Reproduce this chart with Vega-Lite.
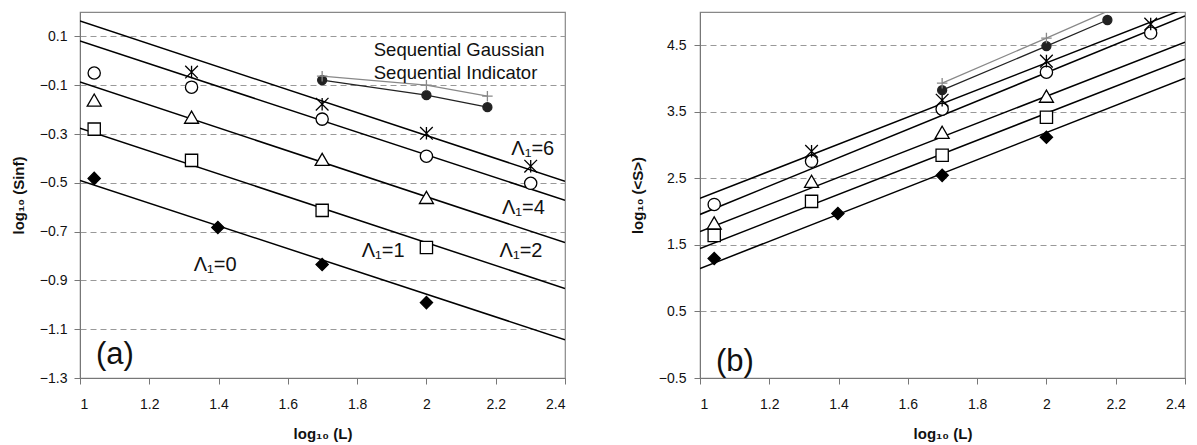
{
  "$schema": "https://vega.github.io/schema/vega-lite/v6.json",
  "padding": {"left": 10, "top": 11, "right": 2, "bottom": 0},
  "background": "white",
  "spacing": 135,
  "bounds": "flush",
  "config": {
    "view": {"stroke": "#888", "strokeWidth": 1.2},
    "axis": {
      "labelFont": "Liberation Sans", "labelFontSize": 14, "labelColor": "#111",
      "titleFont": "Liberation Sans", "titleFontSize": 15, "titleFontWeight": "bold", "titleColor": "#111",
      "domainColor": "#777", "tickColor": "#777", "tickSize": 6, "gridColor": "#999", "gridDash": [6, 4], "gridWidth": 1
    },
    "text": {"font": "Liberation Sans", "color": "#111"}
  },
  "datasets": {
    "fitA": [
      {"s": "L6", "x": 1, "y": 0.163}, {"s": "L6", "x": 2.4, "y": -0.494},
      {"s": "L4", "x": 1, "y": 0.081}, {"s": "L4", "x": 2.4, "y": -0.572},
      {"s": "L2", "x": 1, "y": -0.087}, {"s": "L2", "x": 2.4, "y": -0.745},
      {"s": "L1", "x": 1, "y": -0.276}, {"s": "L1", "x": 2.4, "y": -0.933},
      {"s": "L0", "x": 1, "y": -0.49}, {"s": "L0", "x": 2.4, "y": -1.143}
    ],
    "fitB": [
      {"s": "L6", "x": 1, "y": 2.199}, {"s": "L6", "x": 2.4, "y": 5.05},
      {"s": "L4", "x": 1, "y": 1.958}, {"s": "L4", "x": 2.4, "y": 4.94},
      {"s": "L2", "x": 1, "y": 1.702}, {"s": "L2", "x": 2.4, "y": 4.548},
      {"s": "L1", "x": 1, "y": 1.446}, {"s": "L1", "x": 2.4, "y": 4.292},
      {"s": "L0", "x": 1, "y": 1.145}, {"s": "L0", "x": 2.4, "y": 4.006}
    ],
    "ptsA": [
      {"s": "L0", "x": 1.041, "y": -0.482}, {"s": "L0", "x": 1.398, "y": -0.683}, {"s": "L0", "x": 1.699, "y": -0.835}, {"s": "L0", "x": 2.0, "y": -0.991},
      {"s": "L1", "x": 1.041, "y": -0.28}, {"s": "L1", "x": 1.322, "y": -0.408}, {"s": "L1", "x": 1.699, "y": -0.613}, {"s": "L1", "x": 2.0, "y": -0.765},
      {"s": "L2", "x": 1.041, "y": -0.161}, {"s": "L2", "x": 1.322, "y": -0.231}, {"s": "L2", "x": 1.699, "y": -0.404}, {"s": "L2", "x": 2.0, "y": -0.56},
      {"s": "L4", "x": 1.041, "y": -0.05}, {"s": "L4", "x": 1.322, "y": -0.108}, {"s": "L4", "x": 1.699, "y": -0.239}, {"s": "L4", "x": 2.0, "y": -0.391}, {"s": "L4", "x": 2.301, "y": -0.502},
      {"s": "L6", "x": 1.322, "y": -0.046}, {"s": "L6", "x": 1.699, "y": -0.178}, {"s": "L6", "x": 2.0, "y": -0.297}, {"s": "L6", "x": 2.301, "y": -0.432},
      {"s": "dots", "x": 1.699, "y": -0.079}, {"s": "dots", "x": 2.0, "y": -0.141}, {"s": "dots", "x": 2.176, "y": -0.19},
      {"s": "plus", "x": 1.699, "y": -0.063}, {"s": "plus", "x": 2.0, "y": -0.1}, {"s": "plus", "x": 2.176, "y": -0.145}
    ],
    "ptsB": [
      {"s": "L0", "x": 1.041, "y": 1.295}, {"s": "L0", "x": 1.398, "y": 1.973}, {"s": "L0", "x": 1.699, "y": 2.545}, {"s": "L0", "x": 2.0, "y": 3.117},
      {"s": "L1", "x": 1.041, "y": 1.642}, {"s": "L1", "x": 1.322, "y": 2.154}, {"s": "L1", "x": 1.699, "y": 2.846}, {"s": "L1", "x": 2.0, "y": 3.419},
      {"s": "L2", "x": 1.041, "y": 1.83}, {"s": "L2", "x": 1.322, "y": 2.455}, {"s": "L2", "x": 1.699, "y": 3.193}, {"s": "L2", "x": 2.0, "y": 3.735},
      {"s": "L4", "x": 1.041, "y": 2.108}, {"s": "L4", "x": 1.322, "y": 2.756}, {"s": "L4", "x": 1.699, "y": 3.539}, {"s": "L4", "x": 2.0, "y": 4.096}, {"s": "L4", "x": 2.301, "y": 4.684},
      {"s": "L6", "x": 1.322, "y": 2.907}, {"s": "L6", "x": 1.699, "y": 3.675}, {"s": "L6", "x": 2.0, "y": 4.262}, {"s": "L6", "x": 2.301, "y": 4.819},
      {"s": "dots", "x": 1.699, "y": 3.825}, {"s": "dots", "x": 2.0, "y": 4.488}, {"s": "dots", "x": 2.176, "y": 4.88},
      {"s": "plus", "x": 1.699, "y": 3.93}, {"s": "plus", "x": 2.0, "y": 4.608}, {"s": "plus", "x": 2.176, "y": 5.01}
    ],
    "lamA": [
      {"t": "Λ₁=6", "x": 2.307, "y": -0.363},
      {"t": "Λ₁=4", "x": 2.28, "y": -0.605},
      {"t": "Λ₁=2", "x": 2.273, "y": -0.781},
      {"t": "Λ₁=1", "x": 1.875, "y": -0.781},
      {"t": "Λ₁=0", "x": 1.39, "y": -0.835}
    ],
    "seqA": [
      {"t": "Sequential Gaussian", "x": 1.848, "y": 0.044},
      {"t": "Sequential Indicator", "x": 1.848, "y": -0.05}
    ],
    "tagA": [{"t": "(a)", "x": 1.046, "y": -1.205}],
    "tagB": [{"t": "(b)", "x": 1.046, "y": -0.256}]
  },
  "hconcat": [
    {
      "width": 485, "height": 366,
      "encoding": {
        "x": {"field": "x", "type": "quantitative", "scale": {"domain": [1, 2.4], "nice": false, "zero": false},
          "axis": {"values": [1, 1.2, 1.4, 1.6, 1.8, 2, 2.2, 2.4], "format": "~g", "grid": false, "title": "log₁₀ (L)", "labelPadding": 24, "labelBaseline": "alphabetic", "titleBaseline": "alphabetic", "titleY": 60}},
        "y": {"field": "y", "type": "quantitative", "scale": {"domain": [-1.3, 0.2], "nice": false, "zero": false},
          "axis": {"values": [-1.3, -1.1, -0.9, -0.7, -0.5, -0.3, -0.1, 0.1], "format": ".1f", "grid": true, "title": "log₁₀ (Sinf)", "labelPadding": 7, "titleX": -62, "titleY": 183, "titleBaseline": "middle"}}
      },
      "layer": [
        {"data": {"name": "fitA"}, "mark": {"type": "line", "color": "black", "strokeWidth": 1.5, "clip": true}, "encoding": {"detail": {"field": "s"}}},
        {"data": {"name": "ptsA"}, "transform": [{"filter": "datum.s == 'plus'"}],
          "mark": {"type": "line", "strokeWidth": 1.3, "color": "#888", "clip": true}, "encoding": {}},
        {"data": {"name": "ptsA"}, "transform": [{"filter": "datum.s == 'dots'"}],
          "mark": {"type": "line", "strokeWidth": 1.3, "color": "#222", "clip": true}, "encoding": {}},
        {"data": {"name": "ptsA"}, "transform": [{"filter": "datum.y <= 0.2"}],
          "mark": {"type": "point", "filled": false, "strokeWidth": 1.3, "opacity": 1, "clip": true},
          "encoding": {
            "shape": {"field": "s", "type": "nominal", "scale": {"domain": ["L0", "L1", "L2", "L4", "L6", "dots", "plus"], "range": ["diamond", "square", "triangle-up", "circle", "M-1,-1L1,1M-1,1L1,-1M0,-1L0,1", "circle", "M-1,0L1,0M0,-1L0,1"]}, "legend": null},
            "fill": {"field": "s", "type": "nominal", "scale": {"domain": ["L0", "L1", "L2", "L4", "L6", "dots", "plus"], "range": ["black", "white", "white", "white", "transparent", "#222", "transparent"]}, "legend": null},
            "stroke": {"field": "s", "type": "nominal", "scale": {"domain": ["L0", "L1", "L2", "L4", "L6", "dots", "plus"], "range": ["black", "black", "black", "black", "black", "#222", "#888"]}, "legend": null},
            "size": {"field": "s", "type": "nominal", "scale": {"type": "ordinal", "domain": ["L0", "L1", "L2", "L4", "L6", "dots", "plus"], "range": [150, 150, 196, 150, 160, 81, 110]}, "legend": null}
          }},
        {"data": {"name": "lamA"}, "mark": {"type": "text", "fontSize": 20, "align": "center", "baseline": "middle"}, "encoding": {"text": {"field": "t"}}},
        {"data": {"name": "seqA"}, "mark": {"type": "text", "fontSize": 18.5, "align": "left", "baseline": "middle"}, "encoding": {"text": {"field": "t"}}},
        {"data": {"name": "tagA"}, "mark": {"type": "text", "fontSize": 31, "align": "left", "baseline": "middle"}, "encoding": {"text": {"field": "t"}}}
      ]
    },
    {
      "width": 485, "height": 366,
      "encoding": {
        "x": {"field": "x", "type": "quantitative", "scale": {"domain": [1, 2.4], "nice": false, "zero": false},
          "axis": {"values": [1, 1.2, 1.4, 1.6, 1.8, 2, 2.2, 2.4], "format": "~g", "grid": false, "title": "log₁₀ (L)", "labelPadding": 24, "labelBaseline": "alphabetic", "titleBaseline": "alphabetic", "titleY": 60}},
        "y": {"field": "y", "type": "quantitative", "scale": {"domain": [-0.5, 5.0], "nice": false, "zero": false},
          "axis": {"values": [-0.5, 0.5, 1.5, 2.5, 3.5, 4.5], "format": ".1f", "grid": true, "title": "log₁₀ (<S>)", "labelPadding": 8, "titleX": -63, "titleY": 183, "titleBaseline": "middle"}}
      },
      "layer": [
        {"data": {"name": "fitB"}, "mark": {"type": "line", "color": "black", "strokeWidth": 1.5, "clip": true}, "encoding": {"detail": {"field": "s"}}},
        {"data": {"name": "ptsB"}, "transform": [{"filter": "datum.s == 'plus'"}],
          "mark": {"type": "line", "strokeWidth": 1.3, "color": "#888", "clip": true}, "encoding": {}},
        {"data": {"name": "ptsB"}, "transform": [{"filter": "datum.s == 'dots'"}],
          "mark": {"type": "line", "strokeWidth": 1.3, "color": "#222", "clip": true}, "encoding": {}},
        {"data": {"name": "ptsB"}, "transform": [{"filter": "datum.y <= 5.0"}],
          "mark": {"type": "point", "filled": false, "strokeWidth": 1.3, "opacity": 1, "clip": true},
          "encoding": {
            "shape": {"field": "s", "type": "nominal", "scale": {"domain": ["L0", "L1", "L2", "L4", "L6", "dots", "plus"], "range": ["diamond", "square", "triangle-up", "circle", "M-1,-1L1,1M-1,1L1,-1M0,-1L0,1", "circle", "M-1,0L1,0M0,-1L0,1"]}, "legend": null},
            "fill": {"field": "s", "type": "nominal", "scale": {"domain": ["L0", "L1", "L2", "L4", "L6", "dots", "plus"], "range": ["black", "white", "white", "white", "transparent", "#222", "transparent"]}, "legend": null},
            "stroke": {"field": "s", "type": "nominal", "scale": {"domain": ["L0", "L1", "L2", "L4", "L6", "dots", "plus"], "range": ["black", "black", "black", "black", "black", "#222", "#888"]}, "legend": null},
            "size": {"field": "s", "type": "nominal", "scale": {"type": "ordinal", "domain": ["L0", "L1", "L2", "L4", "L6", "dots", "plus"], "range": [150, 150, 196, 150, 160, 81, 110]}, "legend": null}
          }},
        {"data": {"name": "tagB"}, "mark": {"type": "text", "fontSize": 31, "align": "left", "baseline": "middle"}, "encoding": {"text": {"field": "t"}}}
      ]
    }
  ],
  "resolve": {"scale": {"shape": "independent", "fill": "independent", "stroke": "independent", "size": "independent"}}
}
